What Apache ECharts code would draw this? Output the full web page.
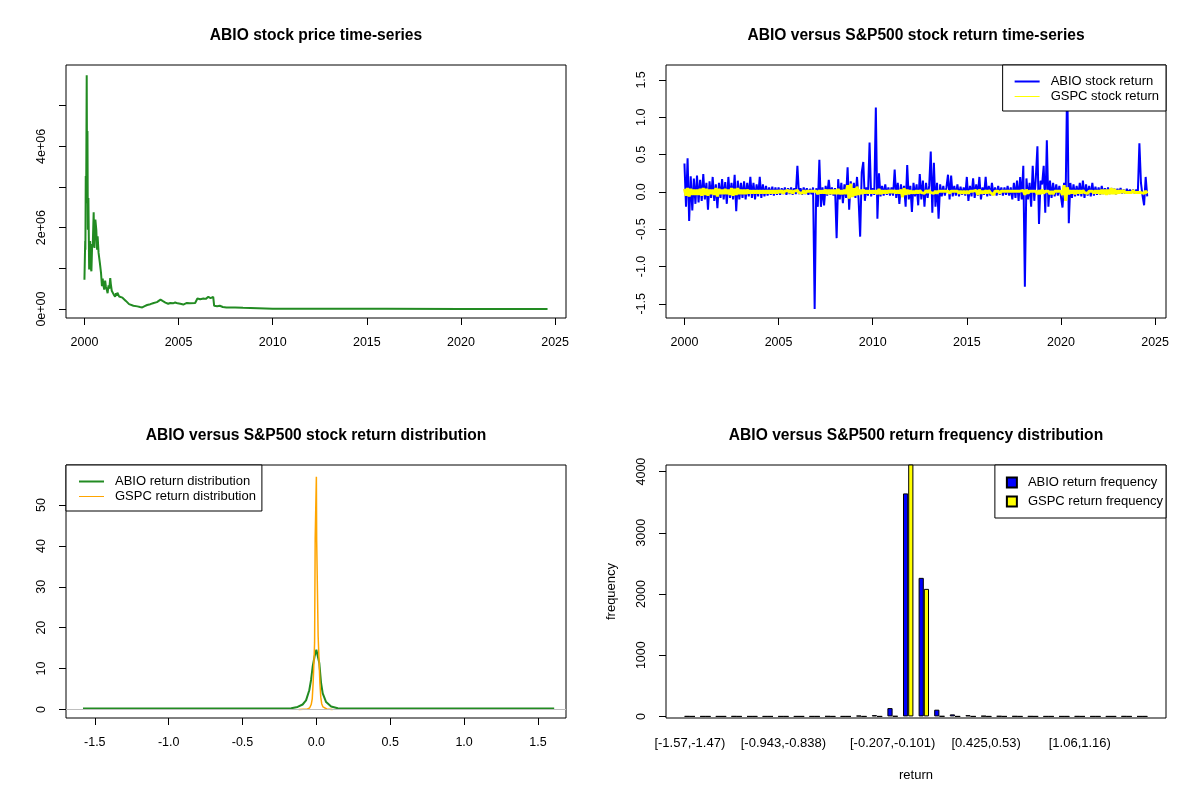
<!DOCTYPE html>
<html>
<head>
<meta charset="utf-8">
<title>ABIO versus S&amp;P500</title>
<script src="https://cdn.jsdelivr.net/npm/echarts@6/dist/echarts.min.js"></script>
<style>
  html, body { margin: 0; padding: 0; background: #fff; }
  #chart { width: 1200px; height: 800px; }
</style>
</head>
<body>
<div id="chart"></div>
<script>
// ---- price panel ----
var priceYears = [2000.00, 2000.03, 2000.04, 2000.05, 2000.07, 2000.09, 2000.12, 2000.14, 2000.16, 2000.18,
  2000.21, 2000.25, 2000.28, 2000.30, 2000.34, 2000.37, 2000.41, 2000.44, 2000.49, 2000.51,
  2000.53, 2000.58, 2000.63, 2000.67, 2000.70, 2000.75, 2000.82, 2000.88, 2000.93, 2000.97,
  2001.00, 2001.05, 2001.10, 2001.14, 2001.20, 2001.23, 2001.28, 2001.32, 2001.37, 2001.40,
  2001.45, 2001.49, 2001.55, 2001.58, 2001.63, 2001.67, 2001.72, 2001.75, 2001.84, 2001.93,
  2002.02, 2002.11, 2002.20, 2002.28, 2002.37, 2002.46, 2002.60, 2002.81, 2002.95, 2003.07,
  2003.20, 2003.33, 2003.50, 2003.68, 2003.85, 2004.04, 2004.15, 2004.30, 2004.45, 2004.56,
  2004.70, 2004.82, 2004.95, 2005.09, 2005.25, 2005.44, 2005.60, 2005.88, 2006.00, 2006.15,
  2006.32, 2006.45, 2006.58, 2006.70, 2006.84, 2006.89, 2007.05, 2007.19, 2007.35, 2007.54,
  2008.00, 2008.42, 2008.51, 2010.0, 2013.0, 2016.0, 2020.0, 2024.6];
var priceValues = [720000, 720000, 1670000, 1460000, 3270000, 2600000, 5750000, 3000000, 4380000, 1950000,
  2730000, 970000, 1600000, 1670000, 1000000, 930000, 1600000, 1540000, 2380000, 1700000,
  1500000, 2200000, 1950000, 1460000, 1790000, 1380000, 1130000, 890000, 560000, 750000,
  600000, 480000, 700000, 550000, 450000, 390000, 580000, 500000, 760000, 620000,
  450000, 480000, 360000, 400000, 300000, 390000, 330000, 400000, 310000, 340000,
  280000, 270000, 200000, 190000, 120000, 90000, 80000, 66000, 50000, 40000,
  70000, 100000, 120000, 150000, 170000, 230000, 200000, 160000, 130000, 150000,
  140000, 160000, 140000, 130000, 110000, 150000, 140000, 150000, 260000, 240000,
  260000, 250000, 300000, 270000, 300000, 80000, 70000, 80000, 50000, 40000,
  40000, 33000, 16000, 10000, 6000, 5000, 4000, 3000];
var priceTickValues = [0, 1000000, 2000000, 3000000, 4000000, 5000000];
var priceLabelValues = [0, 2000000, 4000000];
var priceLabelTexts = ['0e+00', '2e+06', '4e+06'];
var yearTicks = [2000, 2005, 2010, 2015, 2020, 2025];

// ---- monthly returns, Jan 2000 .. Aug 2024 ----
var abioReturn = [
  0.38,-0.20,0.45,-0.39,0.21,-0.25,0.18,-0.16,0.22,-0.14,0.16,-0.12,
  0.24,-0.10,0.12,-0.24,0.14,-0.08,0.20,-0.12,0.10,-0.22,0.12,-0.08,
  0.17,-0.10,0.13,-0.16,0.20,-0.08,0.12,-0.10,0.23,-0.26,0.15,-0.10,
  0.12,-0.08,0.14,-0.10,0.12,-0.06,0.20,-0.08,0.12,-0.10,0.10,-0.06,
  0.20,-0.08,0.10,-0.06,0.08,-0.05,0.06,-0.04,0.07,-0.05,0.06,-0.04,
  0.06,-0.04,0.05,-0.03,0.06,-0.04,0.05,-0.03,0.06,-0.04,0.05,-0.03,
  0.35,-0.03,0.05,-0.04,0.06,-0.03,0.05,-0.04,0.04,-0.03,0.06,-1.57,
  0.05,-0.20,0.43,-0.20,0.06,-0.18,0.08,-0.05,0.16,-0.04,0.06,-0.05,
  0.05,-0.62,0.17,-0.10,0.12,-0.15,0.10,-0.08,0.33,-0.24,0.14,-0.06,
  0.12,-0.08,0.20,-0.10,-0.60,0.26,0.40,-0.12,0.06,-0.05,0.66,-0.06,
  0.05,-0.04,1.13,-0.36,0.25,-0.06,0.08,-0.05,0.10,-0.04,0.06,-0.05,
  0.06,-0.05,0.30,-0.08,0.12,-0.16,0.10,-0.06,0.08,-0.20,0.36,-0.10,
  0.08,-0.27,0.12,-0.06,0.10,-0.18,0.24,-0.10,0.15,-0.20,0.12,-0.08,
  0.08,0.54,-0.28,0.39,-0.20,0.12,-0.36,0.10,-0.06,0.08,-0.05,0.06,
  0.23,-0.10,0.22,-0.06,0.08,-0.05,0.10,-0.06,0.07,-0.04,0.06,-0.05,
  0.20,-0.12,0.08,-0.06,0.18,-0.08,0.10,-0.05,0.20,-0.10,0.06,-0.04,
  0.20,-0.06,0.08,-0.05,0.12,-0.04,0.06,-0.05,0.08,-0.04,0.06,-0.05,
  0.06,-0.04,0.08,-0.05,0.06,-0.10,0.12,-0.08,0.15,-0.12,0.20,-0.10,
  0.35,-1.27,0.18,-0.10,0.12,-0.20,0.35,-0.12,0.20,0.61,-0.43,0.15,
  0.10,0.35,-0.28,0.69,-0.20,0.15,-0.08,0.12,-0.06,0.10,-0.05,0.08,
  0.08,-0.21,0.12,-0.06,1.55,-0.42,0.12,-0.08,0.10,-0.06,0.08,-0.05,
  0.12,-0.06,0.15,-0.08,0.10,-0.05,0.08,-0.06,0.12,-0.05,0.07,-0.04,
  0.06,-0.04,0.08,-0.03,0.05,-0.04,0.06,-0.03,0.05,-0.02,0.04,-0.03,
  0.04,-0.02,0.05,-0.02,0.03,-0.02,0.04,-0.02,0.03,-0.01,0.03,-0.02,
  0.03,-0.02,0.65,0.12,-0.05,-0.18,0.20,-0.06];
var gspcReturn = [
  0.04,-0.05,0.05,-0.06,0.04,-0.04,0.03,-0.04,0.03,-0.04,0.04,-0.05,
  0.05,-0.04,0.04,-0.05,0.03,-0.03,0.03,-0.04,0.05,-0.06,0.04,-0.03,
  0.03,-0.03,0.04,-0.03,0.03,-0.04,0.05,-0.05,0.04,-0.04,0.05,-0.03,
  0.03,-0.03,0.03,-0.03,0.03,-0.02,0.02,-0.02,0.02,-0.02,0.02,-0.02,
  0.02,-0.02,0.02,-0.02,0.02,-0.02,0.02,-0.02,0.02,-0.02,0.02,-0.02,
  0.02,-0.01,0.02,-0.02,0.01,-0.01,0.02,-0.01,0.02,-0.02,0.01,-0.01,
  0.02,-0.01,0.01,-0.02,0.02,-0.02,0.01,-0.01,0.01,-0.01,0.01,-0.01,
  0.01,-0.03,0.02,-0.02,0.02,-0.02,0.03,-0.03,0.03,-0.03,0.03,-0.03,
  0.03,-0.03,0.04,-0.03,0.02,-0.03,0.03,-0.03,0.09,-0.09,0.11,-0.07,
  0.05,-0.05,0.07,-0.04,0.03,-0.03,0.03,-0.02,0.02,-0.02,0.02,-0.02,
  0.02,-0.02,0.02,-0.03,0.04,-0.03,0.02,-0.02,0.02,-0.02,0.02,-0.01,
  0.02,-0.01,0.02,-0.02,0.02,-0.02,0.03,-0.07,0.05,-0.04,0.03,-0.03,
  0.02,-0.02,0.01,-0.02,0.02,-0.02,0.02,-0.01,0.01,-0.02,0.02,-0.01,
  0.02,-0.01,0.01,-0.02,0.01,-0.02,0.01,-0.01,0.01,-0.01,0.01,-0.01,
  0.01,-0.02,0.01,-0.01,0.01,-0.01,0.01,-0.02,0.01,-0.02,0.01,-0.02,
  0.01,-0.02,0.01,-0.01,0.01,-0.01,0.02,-0.04,0.03,-0.02,0.01,-0.02,
  0.02,-0.02,0.02,-0.01,0.01,-0.04,0.01,-0.01,0.01,-0.02,0.01,-0.01,
  0.01,-0.01,0.01,-0.01,0.01,-0.01,0.01,-0.01,0.01,-0.01,0.01,-0.01,
  0.02,-0.04,0.03,-0.02,0.01,-0.01,0.01,-0.01,0.01,-0.03,0.02,-0.03,
  0.03,-0.02,0.01,-0.01,0.01,-0.03,0.01,-0.03,0.01,-0.01,0.01,-0.01,
  0.01,-0.04,0.09,-0.12,0.06,-0.03,0.02,-0.02,0.02,-0.03,0.02,-0.02,
  0.02,-0.02,0.02,-0.01,0.01,-0.02,0.01,-0.01,0.01,-0.02,0.02,-0.02,
  0.02,-0.03,0.03,-0.03,0.03,-0.04,0.03,-0.03,0.05,-0.03,0.04,-0.03,
  0.02,-0.02,0.02,-0.01,0.02,-0.01,0.01,-0.01,0.01,-0.01,0.02,-0.01,
  0.01,-0.01,0.01,-0.01,0.01,-0.02,0.01,-0.02];
var returnTicks = [-1.5, -1.0, -0.5, 0, 0.5, 1.0, 1.5];

// ---- density panel ----
var abioDensityX = [-1.58, -0.20, -0.17, -0.127, -0.093, -0.07, -0.048, -0.036, -0.025, -0.012, 0,
  0.008, 0.02, 0.032, 0.043, 0.066, 0.10, 0.145, 0.235, 0.30, 1.61];
var abioDensityY = [0.25, 0.25, 0.3, 0.6, 1.2, 2.2, 4.7, 7.2, 10.5, 13.0, 14.6,
  14.3, 11.3, 6.4, 3.9, 1.8, 0.7, 0.3, 0.25, 0.2, 0.2];
var gspcDensityX = [-0.12, -0.06, -0.045, -0.035, -0.028, -0.022, -0.016, -0.012, -0.008, -0.002, 0,
  0.002, 0.008, 0.012, 0.018, 0.024, 0.03, 0.036, 0.045, 0.055, 0.07, 0.11];
var gspcDensityY = [0, 0.1, 0.4, 1.2, 2.6, 6.4, 12, 16.4, 41.9, 41.9, 56.9,
  41.5, 41.5, 17.9, 17.9, 6.4, 3, 1.4, 0.6, 0.25, 0.1, 0];
var densityXTicks = [-1.5, -1.0, -0.5, 0, 0.5, 1.0, 1.5];
var densityYTicks = [0, 10, 20, 30, 40, 50];

// ---- frequency panel ----
var binLabels = ['[-1.57,-1.47)', '[-1.47,-1.36)', '[-1.36,-1.25)', '[-1.25,-1.15)', '[-1.15,-1.05)',
  '[-1.05,-0.943)', '[-0.943,-0.838)', '[-0.838,-0.733)', '[-0.733,-0.627)', '[-0.627,-0.522)',
  '[-0.522,-0.417)', '[-0.417,-0.312)', '[-0.312,-0.207)', '[-0.207,-0.101)', '[-0.101,0.0042)',
  '[0.0042,0.109)', '[0.109,0.215)', '[0.215,0.32)', '[0.32,0.425)', '[0.425,0.53)',
  '[0.53,0.635)', '[0.635,0.741)', '[0.741,0.846)', '[0.846,0.951)', '[0.951,1.06)',
  '[1.06,1.16)', '[1.16,1.27)', '[1.27,1.37)', '[1.37,1.48)', '[1.48,1.58]'];
var abioFreq = [1, 0, 0, 1, 0, 0, 0, 0, 0, 2, 0, 12, 20, 136, 3644, 2264, 110, 33, 20, 8, 4, 2, 1, 0, 0, 1, 0, 0, 1, 0];
var gspcFreq = [0, 0, 0, 0, 0, 0, 0, 0, 0, 0, 0, 0, 0, 4, 4150, 2084, 3, 0, 0, 0, 0, 0, 0, 0, 0, 0, 0, 0, 0, 0];
var shownBinLabels = [0, 6, 13, 19, 25];
var freqTicks = [0, 1000, 2000, 3000, 4000];

var FONT = '"Liberation Sans", Arial, sans-serif';
var TICK_SIZE = 12.5;
var TEXT_SIZE = 13;

function zip(xs, ys) {
  return xs.map(function (x, i) { return [x, ys[i]]; });
}
function monthly(values) {
  return values.map(function (v, i) { return [2000 + i / 12, v]; });
}

function valueAxis(gridIndex, min, max, ticks, labels, fmt, rotate) {
  return {
    type: 'value', gridIndex: gridIndex, min: min, max: max,
    axisLine: { show: false, onZero: false },
    splitLine: { show: false },
    axisTick: { show: true, length: 7, lineStyle: { color: '#000' }, customValues: ticks },
    axisLabel: {
      color: '#000', fontSize: TICK_SIZE, fontFamily: FONT, margin: 18,
      rotate: rotate || 0, customValues: labels, formatter: fmt
    }
  };
}

function boxGrid(left, top) {
  return { left: left, top: top, width: 500, height: 253, show: true, borderColor: '#000', borderWidth: 1 };
}

function titleAt(text, x, y) {
  return {
    text: text, left: x, top: y, textAlign: 'center', padding: 0,
    textStyle: { fontSize: 15.6, fontWeight: 'bold', color: '#000', fontFamily: FONT }
  };
}

var legendText = { color: '#000', fontSize: TEXT_SIZE, fontFamily: FONT };

var chart = echarts.init(document.getElementById('chart'));
var option = {
  animation: false,
  backgroundColor: '#fff',
  textStyle: { fontFamily: FONT },
  title: [
    titleAt('ABIO stock price time-series', 316, 28),
    titleAt('ABIO versus S&P500 stock return time-series', 916, 28),
    titleAt('ABIO versus S&P500 stock return distribution', 316, 428),
    titleAt('ABIO versus S&P500 return frequency distribution', 916, 428)
  ],
  grid: [
    boxGrid(66, 65),
    boxGrid(666, 65),
    boxGrid(66, 465),
    boxGrid(666, 465),
    { left: 682, top: 465, width: 468, height: 253, show: false }
  ],
  legend: [
    {
      orient: 'vertical', right: 34, top: 65, selectedMode: false,
      padding: [10, 7, 8, 11], itemGap: 2, itemWidth: 25, itemHeight: 14,
      itemStyle: { opacity: 0 },
      backgroundColor: '#fff', borderColor: '#000', borderWidth: 1, borderRadius: 0,
      textStyle: Object.assign({ padding: [0, 0, 0, 6] }, legendText),
      data: [{ name: 'ABIO stock return' }, { name: 'GSPC stock return', lineStyle: { width: 1 } }]
    },
    {
      orient: 'vertical', left: 66, top: 465, selectedMode: false,
      padding: [10, 6, 8, 12], itemGap: 2, itemWidth: 25, itemHeight: 14,
      itemStyle: { opacity: 0 },
      backgroundColor: '#fff', borderColor: '#000', borderWidth: 1, borderRadius: 0,
      textStyle: Object.assign({ padding: [0, 0, 0, 6] }, legendText),
      data: [{ name: 'ABIO return distribution' }, { name: 'GSPC return distribution', lineStyle: { width: 1 } }]
    },
    {
      orient: 'vertical', right: 34, top: 465, selectedMode: false, icon: 'rect',
      padding: [11, 3, 10, 11], itemGap: 6, itemWidth: 10, itemHeight: 10,
      backgroundColor: '#fff', borderColor: '#000', borderWidth: 1, borderRadius: 0,
      textStyle: Object.assign({ padding: [0, 0, 0, 6] }, legendText),
      data: ['ABIO return frequency', 'GSPC return frequency']
    }
  ],
  xAxis: [
    valueAxis(0, 1999.02, 2025.58, yearTicks, yearTicks, function (v) { return String(v); }),
    valueAxis(1, 1999.02, 2025.58, yearTicks, yearTicks, function (v) { return String(v); }),
    valueAxis(2, -1.695, 1.69, densityXTicks, densityXTicks, function (v) { return v.toFixed(1); }),
    { type: 'value', gridIndex: 3, min: 0, max: 1, show: false },
    {
      type: 'category', gridIndex: 4, data: binLabels,
      axisLine: { show: false, onZero: false }, axisTick: { show: false },
      axisLabel: {
        color: '#000', fontSize: TEXT_SIZE, fontFamily: FONT, margin: 19, hideOverlap: false,
        interval: function (idx) { return shownBinLabels.indexOf(idx) >= 0; }
      },
      name: 'return', nameLocation: 'middle', nameGap: 51,
      nameTextStyle: { color: '#000', fontSize: TEXT_SIZE, fontFamily: FONT }
    }
  ],
  yAxis: [
    valueAxis(0, -220000, 6000000, priceTickValues, priceLabelValues,
      function (v) { return priceLabelTexts[priceLabelValues.indexOf(v)]; }, 90),
    valueAxis(1, -1.69, 1.70, returnTicks, returnTicks, function (v) { return v.toFixed(1); }, 90),
    valueAxis(2, -2.1, 59.8, densityYTicks, densityYTicks, function (v) { return String(v); }, 90),
    Object.assign(valueAxis(3, -26, 4108, freqTicks, freqTicks, function (v) { return String(v); }, 90), {
      name: 'frequency', nameLocation: 'middle', nameGap: 48,
      nameTextStyle: { color: '#000', fontSize: TEXT_SIZE, fontFamily: FONT }
    }),
    { type: 'value', gridIndex: 4, min: -26, max: 4108, show: false }
  ],
  series: [
    {
      name: 'ABIO price', type: 'line', xAxisIndex: 0, yAxisIndex: 0,
      data: zip(priceYears, priceValues), symbol: 'none',
      lineStyle: { color: '#228B22', width: 2 }, itemStyle: { color: '#228B22' }
    },
    {
      name: 'ABIO stock return', type: 'line', xAxisIndex: 1, yAxisIndex: 1,
      data: monthly(abioReturn), symbol: 'none',
      lineStyle: { color: '#0000FF', width: 2 }, itemStyle: { color: '#0000FF' }
    },
    {
      name: 'GSPC stock return', type: 'line', xAxisIndex: 1, yAxisIndex: 1,
      data: monthly(gspcReturn), symbol: 'none',
      lineStyle: { color: '#FFFF00', width: 3 }, itemStyle: { color: '#FFFF00' }
    },
    {
      name: 'ABIO return distribution', type: 'line', xAxisIndex: 2, yAxisIndex: 2,
      data: zip(abioDensityX, abioDensityY), symbol: 'none',
      lineStyle: { color: '#228B22', width: 2 }, itemStyle: { color: '#228B22' },
      markLine: {
        silent: true, symbol: 'none', label: { show: false },
        lineStyle: { color: '#BEBEBE', width: 1, type: 'solid' },
        data: [{ yAxis: 0 }]
      }
    },
    {
      name: 'GSPC return distribution', type: 'line', xAxisIndex: 2, yAxisIndex: 2,
      data: zip(gspcDensityX, gspcDensityY), symbol: 'none',
      lineStyle: { color: '#FFA500', width: 1.5 }, itemStyle: { color: '#FFA500' }
    },
    {
      name: 'ABIO return frequency', type: 'bar', xAxisIndex: 4, yAxisIndex: 4,
      data: abioFreq, barWidth: 5.2, barGap: '0%', clip: true,
      itemStyle: { color: '#0000FF', borderColor: '#000', borderWidth: 1 }
    },
    {
      name: 'GSPC return frequency', type: 'bar', xAxisIndex: 4, yAxisIndex: 4,
      data: gspcFreq, barWidth: 5.2, barGap: '0%', clip: true,
      itemStyle: { color: '#FFFF00', borderColor: '#000', borderWidth: 1 }
    }
  ]
};
chart.setOption(option);
</script>
</body>
</html>
